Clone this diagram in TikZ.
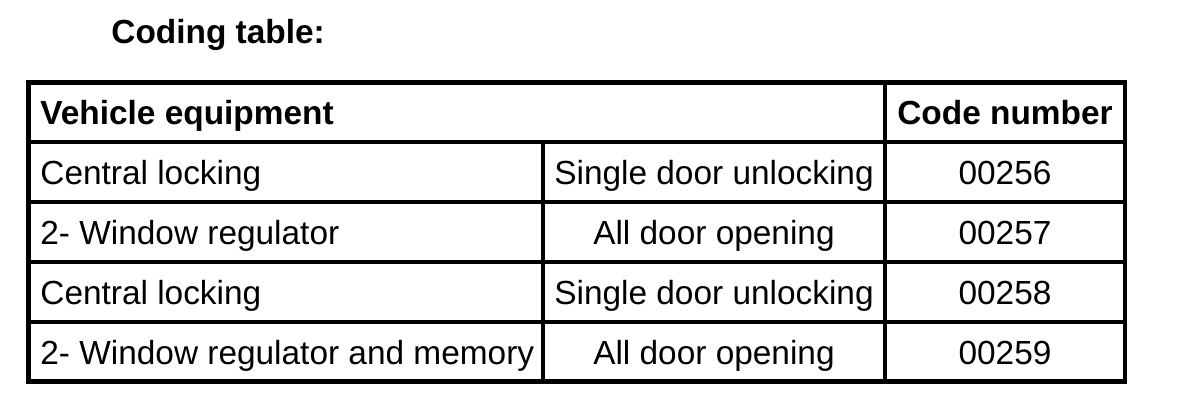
\documentclass[tikz,border=0pt]{standalone}
\usepackage{fontspec}
\setmainfont{Liberation Sans}
\usepackage{tikz}

\tikzset{cell/.style={inner sep=0pt,font={\fontsize{16.7}{20}\selectfont}},
         head/.style={cell,font={\fontsize{16.7}{20}\selectfont\bfseries}}}

\begin{document}
\begin{tikzpicture}[x=0.5pt,y=-0.5pt]
\useasboundingbox (0,0) rectangle (1184,412);
\node[head,anchor=base west] (title) at (111,43) {Coding table:};
\draw[line width=2.4pt](28.5,82.5)rectangle(1125,381.5);
\draw[line width=2pt](885,82.5) -- (885,381.5);
\draw[line width=2pt](543,142) -- (543,381.5);
\draw[line width=2pt](28.5,142) -- (1125,142);
\draw[line width=2pt](28.5,202) -- (1125,202);
\draw[line width=2pt](28.5,262) -- (1125,262);
\draw[line width=2pt](28.5,322) -- (1125,322);
\node[head,anchor=base west] (equip) at (40,124) {Vehicle equipment};
\node[head,anchor=base] (code) at (1005,124) {Code number};
\node[cell,anchor=base west] (veh1) at (40,184) {Central locking};
\node[cell,anchor=base] (door1) at (714,184) {Single door unlocking};
\node[cell,anchor=base] (num1) at (1005,184) {00256};
\node[cell,anchor=base west] (veh2) at (40,244) {2- Window regulator};
\node[cell,anchor=base] (door2) at (714,244) {All door opening};
\node[cell,anchor=base] (num2) at (1005,244) {00257};
\node[cell,anchor=base west] (veh3) at (40,304) {Central locking};
\node[cell,anchor=base] (door3) at (714,304) {Single door unlocking};
\node[cell,anchor=base] (num3) at (1005,304) {00258};
\node[cell,anchor=base west] (veh4) at (40,364) {2- Window regulator and memory};
\node[cell,anchor=base] (door4) at (714,364) {All door opening};
\node[cell,anchor=base] (num4) at (1005,364) {00259};
\end{tikzpicture}
\end{document}
